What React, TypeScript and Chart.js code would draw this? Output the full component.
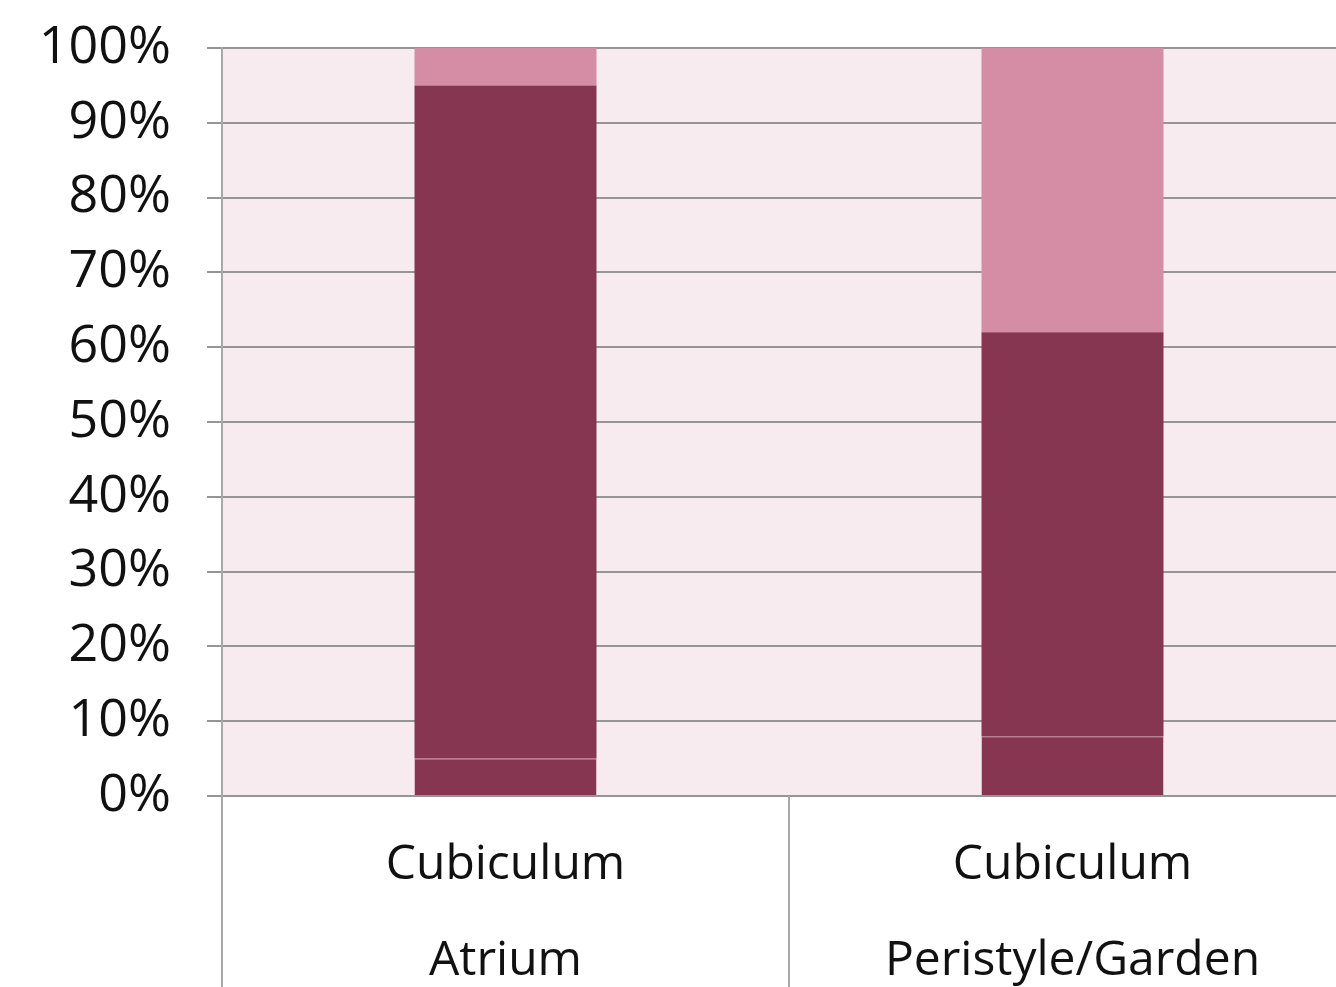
import React, { useEffect, useRef } from "react";
import { Chart, registerables } from "chart.js";

Chart.register(...registerables);

const categories: string[][] = [
  ["Cubiculum", "Atrium"],
  ["Cubiculum", "Peristyle/Garden"],
];
const seriesBottom = [5, 8];
const seriesMiddle = [90, 54];
const seriesTop = [5, 38];

const DARK = "#873651";
const LIGHT = "#d48da4";
const GRID = "#959595";
const FONT = "'Open Sans', 'Noto Sans', sans-serif";

const bgPlugin = {
  id: "plotBg",
  beforeDraw(chart: any) {
    const { ctx, chartArea } = chart;
    ctx.save();
    ctx.fillStyle = "#f7ebef";
    ctx.fillRect(chartArea.left, chartArea.top, chartArea.right - chartArea.left, chartArea.bottom - chartArea.top);
    ctx.restore();
  },
};

const separatorPlugin = {
  id: "catSeparators",
  afterDraw(chart: any) {
    const { ctx, chartArea, scales } = chart;
    const x = scales.x;
    const n = x.getLabels().length;
    const half = (x.getPixelForValue(1) - x.getPixelForValue(0)) / 2;
    ctx.save();
    ctx.strokeStyle = "#a8a8a8";
    ctx.lineWidth = 2;
    for (let i = 0; i <= n; i++) {
      const px = Math.round(x.getPixelForValue(0) - half + i * 2 * half);
      ctx.beginPath();
      ctx.moveTo(px, chartArea.bottom);
      ctx.lineTo(px, chart.height);
      ctx.stroke();
    }
    ctx.restore();
  },
};

export default function App() {
  const ref = useRef<HTMLCanvasElement>(null);
  useEffect(() => {
    if (!ref.current) return;
    const chart = new Chart(ref.current, {
      type: "bar",
      data: {
        labels: categories,
        datasets: [
          {
            label: "a",
            data: seriesBottom,
            backgroundColor: DARK,
            borderColor: "#9c5169",
            borderWidth: { top: 1, left: 0, right: 0, bottom: 0 },
            borderSkipped: false,
          },
          { label: "b", data: seriesMiddle, backgroundColor: DARK, borderWidth: 0 },
          { label: "c", data: seriesTop, backgroundColor: LIGHT, borderWidth: 0 },
        ],
      },
      options: {
        animation: false,
        responsive: false,
        maintainAspectRatio: false,
        datasets: { bar: { categoryPercentage: 0.321, barPercentage: 1 } },
        layout: { padding: { top: 48, right: 0, left: 0, bottom: 0 } },
        plugins: { legend: { display: false }, tooltip: { enabled: false } },
        scales: {
          x: {
            stacked: true,
            grid: { display: false },
            border: { display: false },
            ticks: {
              color: "#111",
              font: { family: FONT, size: 48, lineHeight: 2 },
              padding: 13,
              maxRotation: 0,
              autoSkip: false,
            },
            afterFit: (s: any) => {
              s.height = 191;
            },
          },
          y: {
            stacked: true,
            min: 0,
            max: 100,
            grid: { color: GRID, lineWidth: 2, tickLength: 15 },
            border: { display: true, color: "#a8a8a8", width: 2 },
            ticks: {
              stepSize: 10,
              color: "#111",
              padding: 36,
              font: { family: FONT, size: 52 },
              callback: (v: any) => v + "%",
            },
            afterFit: (s: any) => {
              s.width = 222;
              s.paddingTop = 0;
              s.paddingBottom = 0;
            },
          },
        },
      } as any,
      plugins: [bgPlugin, separatorPlugin],
    });
    return () => chart.destroy();
  }, []);
  return (
    <div style={{ position: "fixed", left: 0, top: 0, width: 1356, height: 987, overflow: "hidden", background: "#fff" }}>
      <canvas ref={ref} width={1356} height={987} style={{ display: "block", width: 1356, height: 987 }} />
    </div>
  );
}
